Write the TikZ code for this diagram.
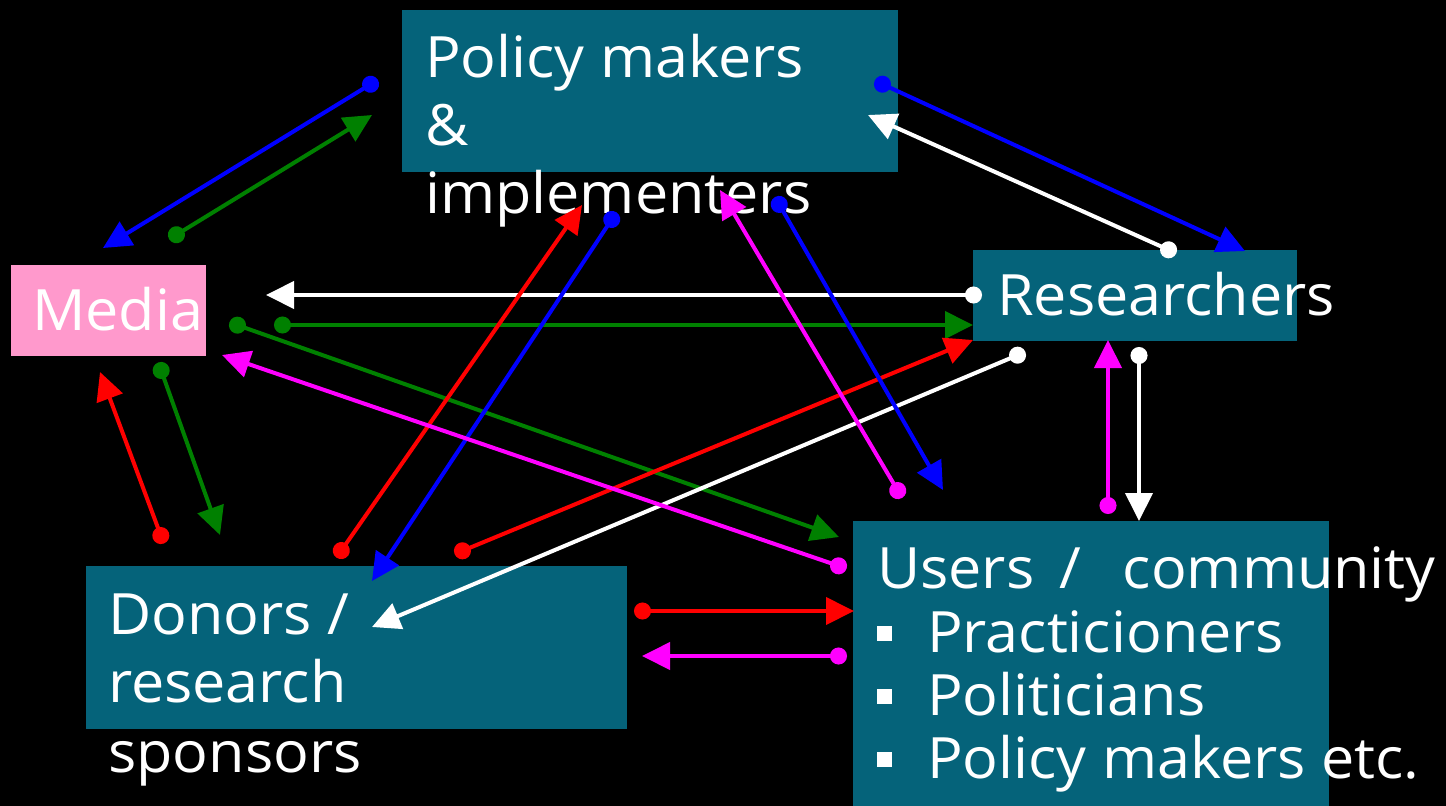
\documentclass[tikz,border=0pt]{standalone}
\usepackage{fontspec}
\setmainfont[FakeStretch=1.04]{Open Sans}
\usetikzlibrary{arrows.meta}
\definecolor{boxteal}{HTML}{05637A}
\definecolor{mediapink}{HTML}{FF99CC}
\definecolor{arrgreen}{HTML}{008000}
\definecolor{arrblue}{HTML}{0000FF}
\definecolor{arrred}{HTML}{FF0000}
\definecolor{arrmagenta}{HTML}{FF00FF}
\begin{document}
\begin{tikzpicture}[x=1pt,y=-1pt,
  box/.style={fill=boxteal, draw=none, inner sep=0, anchor=north west},
  lbl/.style={anchor=base west, inner sep=0, text=white,
    font=\fontsize{57}{64}\selectfont},
  bullet/.style={fill=white, draw=none, inner sep=0, minimum size=15pt, anchor=center},
  flow/.style={line width=4pt, shorten <=-8pt,
    {Circle[length=17pt]}-{Triangle[length=28pt,width=27pt]}}]

% canvas
\fill[black] (0,0) rectangle (1446,806);
\useasboundingbox (0,0) rectangle (1446,806);

% boxes
\node[box, minimum width=496pt, minimum height=162pt] (policy) at (402,10) {};
\node[box, fill=mediapink, minimum width=195pt, minimum height=91pt] (media) at (11,265) {};
\node[box, minimum width=324pt, minimum height=91pt] (researchers) at (973,250) {};
\node[box, minimum width=541pt, minimum height=163pt] (donors) at (86,566) {};
\node[box, minimum width=476pt, minimum height=285pt] (users) at (853,521) {};

% labels
\node[lbl] (pm1) at (425,77) {Policy makers};
\node[lbl] (pm2) at (425,145) {\&};
\node[lbl] (pm3) at (425,213) {implementers};
\node[lbl] (md1) at (32,330) {Media};
\node[lbl] (rs1) at (997,315) {Researchers};
\node[lbl] (dn1) at (108,634) {Donors /};
\node[lbl] (dn2) at (108,702) {research};
\node[lbl] (dn3) at (108,772) {sponsors};
\node[lbl] (us1) at (877,588) {Users\hspace{10pt} /\hspace{26pt} community};
\node[bullet] (b1) at (884,633) {};
\node[lbl] (us2) at (927,652) {Practicioners};
\node[bullet] (b2) at (884,696) {};
\node[lbl] (us3) at (927,715) {Politicians};
\node[bullet] (b3) at (884,759) {};
\node[lbl] (us4) at (927,778) {Policy makers etc.};

% connector end points
\coordinate (p1) at (371,84);   \coordinate (m1) at (103,248);
\coordinate (m2) at (176,235);  \coordinate (p2) at (372,115);
\coordinate (p3) at (882,84);   \coordinate (r3) at (1245,251);
\coordinate (r4) at (1169,250); \coordinate (p4) at (868,115);
\coordinate (r5) at (974,295);  \coordinate (m5) at (266,295);
\coordinate (m6) at (282,325);  \coordinate (r6) at (973,325);
\coordinate (m7) at (237,325);  \coordinate (u7) at (839,537);
\coordinate (d8) at (161,536);  \coordinate (m8) at (100,372);
\coordinate (m9) at (161,370);  \coordinate (d9) at (220,535);
\coordinate (d10) at (341,551); \coordinate (p10) at (582,205);
\coordinate (p11) at (612,219); \coordinate (d11) at (372,581);
\coordinate (d12) at (462,551); \coordinate (r12) at (973,340);
\coordinate (r13) at (1018,355);\coordinate (d13) at (372,627);
\coordinate (u14) at (898,491); \coordinate (p14) at (720,190);
\coordinate (p15) at (779,204); \coordinate (u15) at (943,490);
\coordinate (u16) at (1108,506);\coordinate (r16) at (1108,340);
\coordinate (r17) at (1139,355);\coordinate (u17) at (1139,521);
\coordinate (u18) at (839,566); \coordinate (m18) at (222,355);
\coordinate (d19) at (642,611); \coordinate (u19) at (854,611);
\coordinate (u20) at (839,656); \coordinate (d20) at (642,656);

% connectors
\draw[flow, arrblue] (p1) -- (m1);
\draw[flow, arrgreen] (m2) -- (p2);
\draw[flow, arrblue] (p3) -- (r3);
\draw[flow, white] (r4) -- (p4);
\draw[flow, white] (r5) -- (m5);
\draw[flow, arrgreen] (m6) -- (r6);
\draw[flow, arrgreen] (m7) -- (u7);
\draw[flow, arrred] (d8) -- (m8);
\draw[flow, arrgreen] (m9) -- (d9);
\draw[flow, arrred] (d10) -- (p10);
\draw[flow, arrblue] (p11) -- (d11);
\draw[flow, arrred] (d12) -- (r12);
\draw[flow, white] (r13) -- (d13);
\draw[flow, arrmagenta] (u14) -- (p14);
\draw[flow, arrblue] (p15) -- (u15);
\draw[flow, arrmagenta] (u16) -- (r16);
\draw[flow, white] (r17) -- (u17);
\draw[flow, arrmagenta] (u18) -- (m18);
\draw[flow, arrred] (d19) -- (u19);
\draw[flow, arrmagenta] (u20) -- (d20);
\end{tikzpicture}
\end{document}
